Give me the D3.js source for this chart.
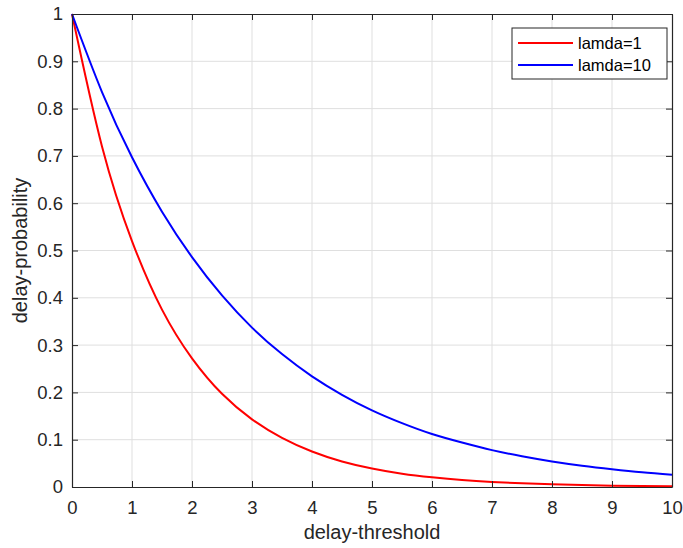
<!DOCTYPE html>
<html>
<head>
<meta charset="utf-8">
<script src="https://cdn.jsdelivr.net/npm/d3@7"></script>
<style>
body { margin: 0; background: #fff; }
svg { font-family: "Liberation Sans", Arial, sans-serif; }
.grid line { stroke: #dfdfdf; stroke-width: 1; }
.axis path, .axis line { stroke: #262626; }
</style>
</head>
<body>
<svg width="683" height="548"></svg>
<script>
// values
const xs = [0, 0.5, 1, 1.5, 2, 2.5, 3, 3.5, 4, 4.5, 5, 5.5, 6, 6.5, 7, 7.5, 8, 8.5, 9, 9.5, 10];
const lamda1 = [1, 0.72, 0.52, 0.375, 0.272, 0.197, 0.143, 0.104, 0.075, 0.054, 0.039, 0.028, 0.0205, 0.0148, 0.0107, 0.0077, 0.0056, 0.004, 0.0029, 0.0021, 0.0015];
const lamda10 = [1, 0.835, 0.697, 0.582, 0.486, 0.405, 0.337, 0.281, 0.234, 0.195, 0.162, 0.135, 0.112, 0.094, 0.078, 0.065, 0.054, 0.045, 0.0375, 0.031, 0.026];
const x_ticks = [0, 1, 2, 3, 4, 5, 6, 7, 8, 9, 10];
const y_ticks = [0, 0.1, 0.2, 0.3, 0.4, 0.5, 0.6, 0.7, 0.8, 0.9, 1];
const series = [
	{name: 'lamda=1', values: lamda1, color: '#ff0000'},
	{name: 'lamda=10', values: lamda10, color: '#0000ff'}
];

var svg = d3.select("svg");
const m_left = 72, m_right = 672, m_top = 14, m_bottom = 487;
const font = '"Liberation Sans", Arial, sans-serif';

var x = d3.scaleLinear().domain([0, 10]).range([m_left, m_right]);
var y = d3.scaleLinear().domain([0, 1]).range([m_bottom, m_top]);

//Grid
const grid = svg.append("g").attr("class", "grid");
grid.selectAll(".gx").data(x_ticks.slice(1, -1)).enter()
	.append("line")
	.attr("x1", d => x(d)).attr("x2", d => x(d))
	.attr("y1", m_top).attr("y2", m_bottom);
grid.selectAll(".gy").data(y_ticks.slice(1, -1)).enter()
	.append("line")
	.attr("y1", d => y(d)).attr("y2", d => y(d))
	.attr("x1", m_left).attr("x2", m_right);

//Curves
var line = d3.line().curve(d3.curveNatural);
series.forEach(function(s) {
	svg.append("path")
		.attr("d", line(xs.map((v, i) => [x(v), y(s.values[i])])))
		.attr("fill", "none")
		.attr("stroke", s.color)
		.attr("stroke-width", 2);
});

//Axes (box with ticks on all sides, pointing inward)
function style_axis(g) {
	g.attr("font-size", 18.5).attr("font-family", font);
	g.selectAll("text").attr("fill", "#262626");
	g.select(".domain").attr("stroke-width", 1.2);
}
svg.append("g").attr("class", "axis")
	.attr("transform", "translate(0," + m_bottom + ")")
	.call(d3.axisBottom(x).tickValues(x_ticks).tickFormat(d3.format("d")).tickSizeInner(-6).tickSizeOuter(0).tickPadding(14))
	.call(style_axis);
svg.append("g").attr("class", "axis")
	.attr("transform", "translate(" + m_left + ",0)")
	.call(d3.axisLeft(y).tickValues(y_ticks).tickFormat(d => String(+d.toFixed(1))).tickSizeInner(-6).tickSizeOuter(0).tickPadding(9))
	.call(style_axis);
svg.append("g").attr("class", "axis")
	.attr("transform", "translate(0," + m_top + ")")
	.call(d3.axisTop(x).tickValues(x_ticks).tickFormat("").tickSizeInner(-6).tickSizeOuter(0))
	.call(style_axis);
svg.append("g").attr("class", "axis")
	.attr("transform", "translate(" + m_right + ",0)")
	.call(d3.axisRight(y).tickValues(y_ticks).tickFormat("").tickSizeInner(-6).tickSizeOuter(0))
	.call(style_axis);

//Labels
svg.append("text")
	.attr("x", (m_left + m_right) / 2).attr("y", 539)
	.attr("text-anchor", "middle")
	.attr("font-size", "20px").attr("fill", "#262626")
	.text("delay-threshold");
svg.append("text")
	.attr("transform", "translate(27," + (m_top + m_bottom) / 2 + ") rotate(-90)")
	.attr("text-anchor", "middle")
	.attr("font-size", "20px").attr("fill", "#262626")
	.text("delay-probability");

//Legend
const lg = svg.append("g");
lg.append("rect")
	.attr("x", 512).attr("y", 28).attr("width", 155).attr("height", 51)
	.attr("fill", "#fff").attr("stroke", "#262626").attr("stroke-width", 1);
series.forEach(function(s, i) {
	const ly = 43 + i * 22;
	lg.append("line")
		.attr("x1", 518).attr("x2", 573).attr("y1", ly).attr("y2", ly)
		.attr("stroke", s.color).attr("stroke-width", 2);
	lg.append("text")
		.attr("x", 578).attr("y", ly + 6)
		.attr("font-size", "16.5px").attr("fill", "#000")
		.text(s.name);
});
</script>
</body>
</html>
